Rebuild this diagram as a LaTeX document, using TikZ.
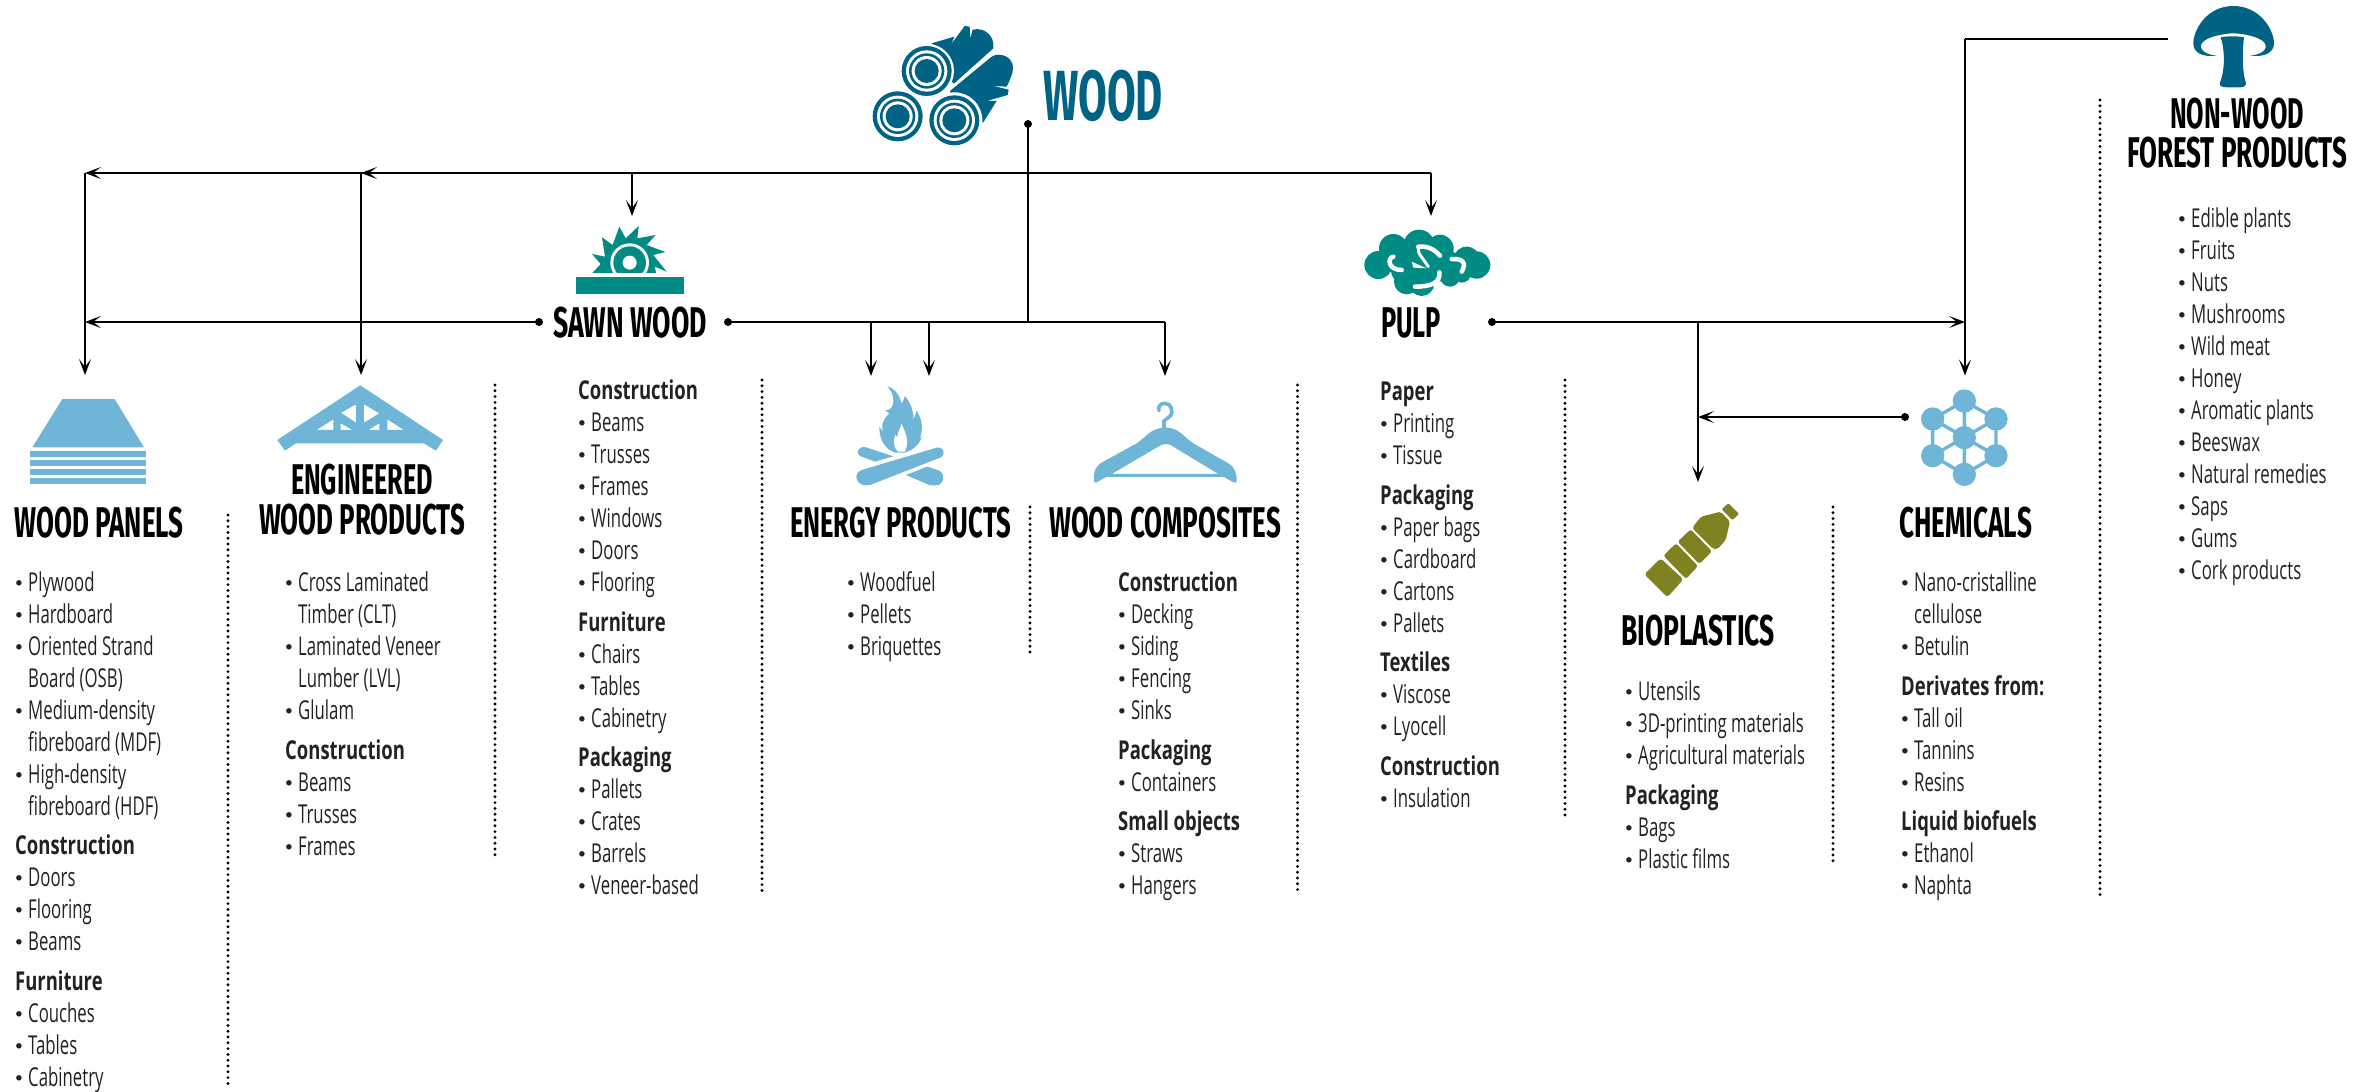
\documentclass[tikz,border=0pt]{standalone}
\usepackage{graphicx}
\usepackage{fontspec}
\setmainfont{Open Sans}[FakeStretch=0.645,BoldFeatures={FakeStretch=0.71}]
\newfontfamily\hf{Fira Sans}
\usetikzlibrary{arrows.meta}
\definecolor{cwood}{HTML}{006386}
\definecolor{cteal}{HTML}{008C85}
\definecolor{clight}{HTML}{6FB5D7}
\definecolor{colive}{HTML}{808222}
\definecolor{ctxt}{HTML}{222222}
\newcommand{\hd}[2]{\resizebox{#1pt}{\height}{\hf\bfseries\fontsize{43}{43}\selectfont #2}}
\newcommand{\hdw}[2]{\resizebox{#1pt}{\height}{\hf\bfseries\fontsize{71}{71}\selectfont #2}}
\newcommand{\fl}{\rule{0pt}{20pt}}
\newcommand{\bi}[1]{\makebox[13pt][l]{{\hf\fontsize{24}{24}\selectfont •}}#1}
\newcommand{\ci}[1]{\hspace*{13pt}#1}
\newcommand{\hb}[1]{{\bfseries #1}}
\tikzset{
  zoomed/.style 2 args={shift={(#1,#2)},x=0.3333pt,y=-0.3333pt},
  listbox/.style={anchor=north west,inner sep=0pt,align=left,text=ctxt,font=\fontsize{26}{32}\selectfont,yshift=-0.7pt},
  headbox/.style={anchor=base,inner sep=0pt,text=black,yshift=-0.7pt},
  dotnode/.style={circle,fill=black,inner sep=0pt,minimum size=8pt},
  plainline/.style={line width=1.5pt,draw=black},
  arrowline/.style={plainline,-{Stealth[length=16pt,width=12pt,inset=8pt]}},
  dotsep/.style={line width=3.2pt,line cap=round,dash pattern=on 0pt off 5.8pt,draw=black}
}
\begin{document}
\begin{tikzpicture}[x=1pt,y=-1pt]
\useasboundingbox (0,0) rectangle (2375,1092);

% ---------- logs
\begin{scope}[zoomed={860}{15}]
\fill[cwood] (215,85) -- (283,65) -- (274,87) -- (314,33) -- (329,35) -- (331,70) -- (338,44) .. controls (375,35) and (405,65) .. (400,100) -- (283,205) -- (200,168) -- cycle;
\fill[cwood] (270,228) -- (395,125) .. controls (420,110) and (460,125) .. (459,160) .. controls (459,175) and (450,195) .. (440,215) -- (400,213) -- (446,224) -- (443,240) -- (380,258) -- (410,258) -- (370,322) -- (283,316) -- cycle;
\fill[white] (200,168) circle (82);
\fill[white] (283,316) circle (84);
\foreach \cx/\cy in {200/168,113/304,283/316}{
  \fill[cwood] (\cx,\cy) circle (75);
  \fill[white] (\cx,\cy) circle (62);
  \fill[cwood] (\cx,\cy) circle (53);
  \fill[white] (\cx,\cy) circle (45);
  \fill[cwood] (\cx,\cy) circle (36);
}
\end{scope}
\node[headbox,text=cwood] (woodtitle) at (1103,120) {\hdw{120}{WOOD}};

% ---------- mushroom
\begin{scope}[zoomed={2170}{0}]
\fill[cwood] (190,18) .. controls (270,18) and (312,90) .. (312,130) .. controls (312,160) and (280,172) .. (240,167) .. controls (270,165) and (295,150) .. (285,130) .. controls (270,108) and (210,100) .. (190,100) .. controls (170,100) and (110,108) .. (95,130) .. controls (85,150) and (110,165) .. (140,167) .. controls (100,172) and (70,160) .. (70,130) .. controls (70,90) and (110,18) .. (190,18) -- cycle;
\fill[cwood] (152,112) .. controls (170,108) and (205,108) .. (222,112) .. controls (215,170) and (218,220) .. (228,250) .. controls (228,262) and (215,262) .. (205,262) -- (170,262) .. controls (155,262) and (147,258) .. (150,248) .. controls (165,210) and (165,150) .. (152,112) -- cycle;
\end{scope}
\node[headbox] (nwfptitleA) at (2237,128) {\hd{134}{NON-WOOD}};
\node[headbox] (nwfptitleB) at (2237,167) {\hd{220}{FOREST PRODUCTS}};

% ---------- saw
\begin{scope}[zoomed={560}{210}]
\fill[cteal] (48,201) rectangle (372,252);
\begin{scope}
\clip (0,0) rectangle (510,189);
\fill[cteal] (97,189) -- (122,162) -- (96,132) -- (135,140) -- (126,82) -- (158,105) -- (178,50) -- (197,85) -- (236,48) -- (232,85) -- (287,75) -- (260,105) -- (316,126) -- (280,135) -- (320,185) -- (285,170) -- (288,189) -- cycle;
\fill[white] (209,158) circle (58);
\fill[cteal] (209,158) circle (49);
\end{scope}
\fill[white] (209,158) circle (21);
\end{scope}
\node[headbox] (sawntitle) at (630,337) {\hd{154}{SAWN WOOD}};

% ---------- pulp
\begin{scope}[zoomed={1350}{215}]
\fill[cteal] (85,150) circle (42) (130,100) circle (43) (207,90) circle (46) (270,100) circle (41) (380,150) circle (41) (350,135) circle (40) (170,200) circle (38) (215,205) circle (38) (300,185) circle (30) (335,175) circle (28) (200,150) circle (80) (280,150) circle (50);
\draw[white,line width=4.5pt,line cap=round] (205,95) .. controls (235,92) and (255,105) .. (270,122);
\draw[white,line width=4.5pt,line cap=round] (130,125) .. controls (110,130) and (115,165) .. (155,165);
\draw[white,line width=4.5pt,line cap=round] (305,132) .. controls (340,130) and (350,145) .. (335,170);
\draw[white,line width=4.5pt,line cap=round] (268,172) .. controls (272,205) and (240,215) .. (195,215);
\draw[white,line width=3pt,line cap=round] (205,95) .. controls (200,112) and (215,125) .. (235,155);
\fill[white] (185,140) -- (230,160) -- (190,158) -- cycle;
\end{scope}
\node[headbox] (pulptitle) at (1411,337) {\hd{60}{PULP}};

% ---------- panels
\begin{scope}[zoomed={0}{360}]
\fill[clight] (187,117) -- (344,117) -- (432,262) -- (97,262) -- cycle;
\foreach \ya/\yb in {273/291,300/318,327/345,354/372}{\fill[clight] (90,\ya) rectangle (438,\yb);}
\end{scope}
\node[headbox] (panelstitle) at (99,537) {\hd{169}{WOOD PANELS}};

% ---------- truss
\begin{scope}[zoomed={0}{360}]
\fill[clight,even odd rule] (1081,76) -- (1329,240) -- (1308,272) -- (1272,250) -- (888,250) -- (855,272) -- (832,240) -- cycle
 (1023,158) -- (1068,133) -- (1068,188) -- cycle
 (1092,133) -- (1138,160) -- (1092,188) -- cycle
 (1022,190) -- (1058,210) -- (1022,210) -- cycle
 (1105,210) -- (1138,190) -- (1138,210) -- cycle
 (1162,178) -- (1212,210) -- (1162,210) -- cycle
 (950,210) -- (1000,178) -- (1000,210) -- cycle;
\end{scope}
\node[headbox] (eweptitleA) at (362,494) {\hd{142}{ENGINEERED}};
\node[headbox] (eweptitleB) at (362,534) {\hd{206}{WOOD PRODUCTS}};

% ---------- fire
\begin{scope}[zoomed={840}{380}]
\fill[clight] (142,18) .. controls (168,28) and (180,48) .. (185,72) .. controls (190,62) and (192,55) .. (195,48) .. controls (212,70) and (222,95) .. (220,118) .. controls (225,110) and (228,100) .. (230,92) .. controls (248,120) and (250,150) .. (238,178) -- (246,168) .. controls (240,195) and (215,212) .. (195,218) -- (165,218) .. controls (130,205) and (118,175) .. (118,140) -- (128,155) .. controls (122,125) and (138,110) .. (148,100) -- (135,92) .. controls (150,90) and (160,85) .. (160,60) .. controls (160,40) and (150,30) .. (142,18) -- cycle;
\fill[white] (185,130) .. controls (190,150) and (212,175) .. (195,215) -- (175,215) .. controls (158,200) and (160,180) .. (166,165) -- (172,172) .. controls (172,158) and (180,148) .. (185,130) -- cycle;
% logs
\fill[clight] (60,205) .. controls (65,200) and (72,200) .. (78,202) -- (160,229) -- (105,245) -- (60,228) .. controls (50,222) and (52,210) .. (60,205) -- cycle;
\fill[clight] (198,285) -- (262,260) -- (298,272) .. controls (318,282) and (312,318) .. (285,316) -- (270,316) -- cycle;
\fill[clight] (65,270) -- (290,203) .. controls (312,198) and (318,225) .. (303,232) -- (90,315) .. controls (50,325) and (35,280) .. (65,270) -- cycle;
\end{scope}
\node[headbox] (energytitle) at (900.5,537) {\hd{221}{ENERGY PRODUCTS}};

% ---------- hanger
\begin{scope}[zoomed={1080}{395}]
\draw[clight,line width=3.6pt,line cap=round] (252,100) -- (252,78) -- (272,62) .. controls (280,50) and (275,25) .. (255,25) .. controls (240,25) and (233,35) .. (237,47);
\fill[clight,even odd rule] (42,255) .. controls (40,225) and (50,210) .. (70,200) -- (170,145) .. controls (200,125) and (210,100) .. (257,97) .. controls (300,100) and (310,125) .. (340,145) -- (445,205) .. controls (465,215) and (472,240) .. (470,262) -- (460,262) -- (432,246) -- (78,246) -- (50,262) -- (42,262) -- cycle
 (95,237) -- (240,152) .. controls (250,146) and (265,146) .. (275,152) -- (415,237) -- cycle;
\end{scope}
\node[headbox] (composittitle) at (1165,537) {\hd{232}{WOOD COMPOSITES}};

% ---------- bottle
\begin{scope}[zoomed={1630}{490}]
\fill[colive,rounded corners=1pt] (275,58) -- (295,40) -- (327,72) -- (307,90) -- cycle;
\fill[colive,rounded corners=2pt] (213,80) -- (272,65) -- (300,95) -- (287,150) -- (262,178) -- (248,176) -- (186,114) -- cycle;
\fill[colive,rounded corners=2.5pt] (182,118) -- (246,184) -- (208,222) -- (143,155) -- cycle;
\fill[colive,rounded corners=2.5pt] (138,160) -- (204,228) -- (168,267) -- (100,197) -- cycle;
\fill[colive,rounded corners=3pt] (92,205) -- (160,268) -- (112,322) -- (43,253) -- cycle;
\end{scope}
\node[headbox] (biotitle) at (1698,645) {\hd{154}{BIOPLASTICS}};

% ---------- chemicals
\begin{scope}[zoomed={1900}{375}]
\draw[clight,line width=3.4pt] (193,78) -- (98,132) -- (98,242) -- (193,298) -- (288,242) -- (288,132) -- cycle;
\draw[clight,line width=3.4pt] (193,78) -- (193,298) (98,132) -- (288,242) (288,132) -- (98,242);
\foreach \cx/\cy in {193/78,98/132,288/132,193/188,98/242,288/242,193/298}{\fill[clight] (\cx,\cy) circle (35);}
\end{scope}
\node[headbox] (chemtitle) at (1965.5,537) {\hd{133}{CHEMICALS}};

% ---------- separators
\coordinate (sepA1) at (228,515);  \coordinate (sepA2) at (228,1085);
\coordinate (sepB1) at (495,385);  \coordinate (sepB2) at (495,860);
\coordinate (sepC1) at (762,380);  \coordinate (sepC2) at (762,895);
\coordinate (sepD1) at (1030,507); \coordinate (sepD2) at (1030,656);
\coordinate (sepE1) at (1297.5,385); \coordinate (sepE2) at (1297.5,895);
\coordinate (sepF1) at (1565,380); \coordinate (sepF2) at (1565,816);
\coordinate (sepG1) at (1833,507); \coordinate (sepG2) at (1833,865);
\coordinate (sepH1) at (2100,100); \coordinate (sepH2) at (2100,897);
\foreach \s in {A,B,C,D,E,F,G,H}{\draw[dotsep] (sep\s1) -- (sep\s2);}

% ---------- connector points
\node[dotnode] (wooddot) at (1028,124) {};
\node[dotnode] (sawnL) at (539,322) {};
\node[dotnode] (sawnR) at (728,322) {};
\node[dotnode] (pulpR) at (1492,322) {};
\node[dotnode] (chemL) at (1905,417) {};
\coordinate (topJ) at (1028,173);
\coordinate (busJ) at (1028,322);
\coordinate (topR) at (1431,173);
\coordinate (topL) at (85,173);
\coordinate (topM) at (361,173);
\coordinate (topS) at (632,173);
\coordinate (panelsIn) at (85,375);
\coordinate (ewpIn) at (361,375);
\coordinate (sawnIn) at (632,216);
\coordinate (pulpIn) at (1431,216);
\coordinate (panelsBus) at (85,322);
\coordinate (enA) at (871,322);
\coordinate (enB) at (929,322);
\coordinate (enAIn) at (871,376);
\coordinate (enBIn) at (929,376);
\coordinate (compC) at (1165,322);
\coordinate (compIn) at (1165,376);
\coordinate (chemC) at (1965,322);
\coordinate (chemIn) at (1965,375.5);
\coordinate (bioC) at (1698,322);
\coordinate (bioM) at (1698,417);
\coordinate (bioIn) at (1698,482);
\coordinate (mushE) at (2168,39);
\coordinate (mushC) at (1965,39);

\draw[plainline] (wooddot.center) -- (busJ);
\draw[arrowline] (topR) -- (topL);
\draw[arrowline] (topJ) -- (topM);
\draw[arrowline] (topR) -- (pulpIn);
\draw[arrowline] (topL) -- (panelsIn);
\draw[arrowline] (topM) -- (ewpIn);
\draw[arrowline] (topS) -- (sawnIn);
\draw[arrowline] (sawnL.center) -- (panelsBus);
\draw[plainline] (sawnR.center) -- (compC);
\draw[arrowline] (compC) -- (compIn);
\draw[arrowline] (enA) -- (enAIn);
\draw[arrowline] (enB) -- (enBIn);
\draw[arrowline] (pulpR.center) -- (chemC);
\draw[arrowline] (bioC) -- (bioIn);
\draw[arrowline] (chemL.center) -- (bioM);
\draw[plainline] (mushE) -- (mushC);
\draw[arrowline] (mushC) -- (chemIn);

% ---------- lists
\node[listbox] (panelslist) at (15,571) {\fl\bi{Plywood}\\\bi{Hardboard}\\\bi{Oriented Strand}\\\ci{Board (OSB)}\\\bi{Medium-density}\\\ci{fibreboard (MDF)}\\\bi{High-density}\\\ci{fibreboard (HDF)}\\[6.5pt]\hb{Construction}\\\bi{Doors}\\\bi{Flooring}\\\bi{Beams}\\[8pt]\hb{Furniture}\\\bi{Couches}\\\bi{Tables}\\\bi{Cabinetry}};
\node[listbox] (ewplist) at (285,571) {\fl\bi{Cross Laminated}\\\ci{Timber  (CLT)}\\\bi{Laminated Veneer}\\\ci{Lumber (LVL)}\\\bi{Glulam}\\[7.5pt]\hb{Construction}\\\bi{Beams}\\\bi{Trusses}\\\bi{Frames}};
\node[listbox] (sawnlist) at (578,379) {\fl\hb{Construction}\\\bi{Beams}\\\bi{Trusses}\\\bi{Frames}\\\bi{Windows}\\\bi{Doors}\\\bi{Flooring}\\[7.5pt]\hb{Furniture}\\\bi{Chairs}\\\bi{Tables}\\\bi{Cabinetry}\\[7.5pt]\hb{Packaging}\\\bi{Pallets}\\\bi{Crates}\\\bi{Barrels}\\\bi{Veneer-based}};
\node[listbox] (energylist) at (847,571) {\fl\bi{Woodfuel}\\\bi{Pellets}\\\bi{Briquettes}};
\node[listbox] (complist) at (1118,571) {\fl\hb{Construction}\\\bi{Decking}\\\bi{Siding}\\\bi{Fencing}\\\bi{Sinks}\\[7.5pt]\hb{Packaging}\\\bi{Containers}\\[7.5pt]\hb{Small objects}\\\bi{Straws}\\\bi{Hangers}};
\node[listbox] (pulplist) at (1380,379.5) {\fl\hb{Paper}\\\bi{Printing}\\\bi{Tissue}\\[8pt]\hb{Packaging}\\\bi{Paper bags}\\\bi{Cardboard}\\\bi{Cartons}\\\bi{Pallets}\\[7.5pt]\hb{Textiles}\\\bi{Viscose}\\\bi{Lyocell}\\[7.5pt]\hb{Construction}\\\bi{Insulation}};
\node[listbox] (biolist) at (1625,680) {\fl\bi{Utensils}\\\bi{3D-printing materials}\\\bi{Agricultural materials}\\[7.5pt]\hb{Packaging}\\\bi{Bags}\\\bi{Plastic films}};
\node[listbox] (chemlist) at (1901,571) {\fl\bi{Nano-cristalline}\\\ci{cellulose}\\\bi{Betulin}\\[7.5pt]\hb{Derivates from:}\\\bi{Tall oil}\\\bi{Tannins}\\\bi{Resins}\\[7.5pt]\hb{Liquid biofuels}\\\bi{Ethanol}\\\bi{Naphta}};
\node[listbox] (nwfplist) at (2178,207) {\fl\bi{Edible plants}\\\bi{Fruits}\\\bi{Nuts}\\\bi{Mushrooms}\\\bi{Wild meat}\\\bi{Honey}\\\bi{Aromatic plants}\\\bi{Beeswax}\\\bi{Natural remedies}\\\bi{Saps}\\\bi{Gums}\\\bi{Cork products}};
\end{tikzpicture}
\end{document}
